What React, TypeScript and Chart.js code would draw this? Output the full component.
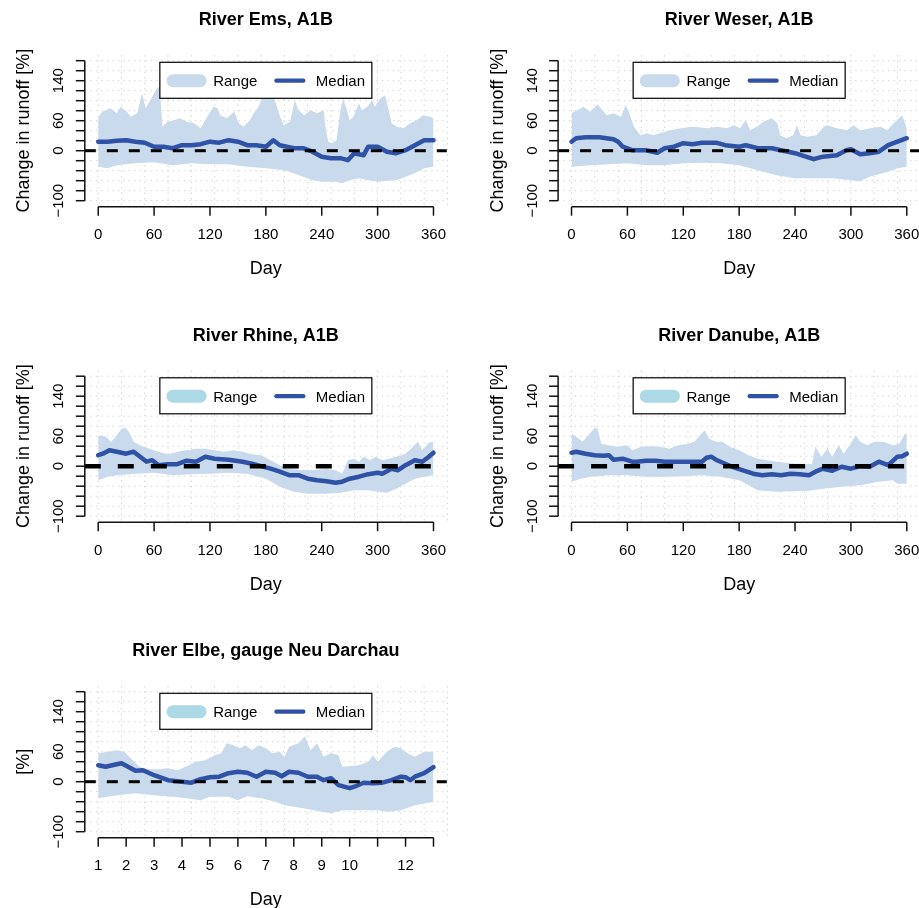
import React, { useEffect, useRef } from 'react';
import { Chart, registerables } from 'chart.js';
Chart.register(...registerables);

const FONT = "'Liberation Sans', Arial, Helvetica, sans-serif";
const X_MIN = -14.4;
const X_MAX = 374.4;
const Y_MIN = -111.2;
const Y_MAX = 191.2;

const Y_TICKS = [-100, -80, -60, -40, -20, 0, 20, 40, 60, 80, 100, 120, 140, 160, 180];
const Y_LABEL_VALUES = [-100, 0, 60, 140];
const Y_LABELS = ['\u2212100', '0', '60', '140'];
const GRID_X = [0, 25, 50, 75, 100, 125, 150, 175, 200, 225, 250, 275, 300, 325, 350, 375];
const DAY_TICKS = [0, 60, 120, 180, 240, 300, 360];
const DAY_LABELS = ['0', '60', '120', '180', '240', '300', '360'];
const MONTH_TICKS = [0, 30, 60, 90, 120, 150, 180, 210, 240, 270, 300, 330, 360];
const MONTH_LABELS = ['1', '2', '3', '4', '5', '6', '7', '8', '9', '10', '', '12', ''];

// ---- River Ems ----
const emsUpDays = [0,4,8,13,20,24,31,35,42,47,51,54,58,63,66,69,74,81,88,95,103,110,117,124,128,131,138,146,151,156,163,167,172,178,182,188,194,199,206,211,215,221,228,235,242,244,247,251,256,260,263,267,270,274,280,283,289,294,297,303,308,312,315,321,328,335,342,349,356,360];
const emsUp = [66,78,81,85,75,88,78,68,75,115,85,95,108,125,128,48,57,61,65,58,55,45,68,88,85,71,65,78,55,48,61,75,88,115,135,112,75,51,58,101,81,71,81,75,81,48,18,15,21,81,105,81,61,68,95,81,88,101,88,105,111,81,55,48,45,55,61,71,68,65];
const emsLoDays = [0,10,20,40,60,80,100,120,140,160,180,200,210,220,230,240,255,262,270,280,290,300,310,320,330,340,350,360];
const emsLo = [-32,-35,-29,-25,-23,-29,-25,-27,-27,-32,-35,-39,-45,-52,-59,-62,-62,-65,-59,-55,-59,-62,-60,-59,-52,-45,-35,-32];
const emsMedDays = [0,10,20,30,40,50,60,70,80,90,100,110,120,130,140,150,160,170,180,188,195,200,210,220,230,240,250,260,268,275,285,290,300,310,320,330,340,350,360];
const emsMed = [18,18,20,21,18,16,8,8,5,11,11,13,18,16,21,18,11,11,8,21,11,9,5,5,-2,-12,-15,-15,-19,-5,-9,8,8,-2,-5,1,11,21,21];

// ---- River Weser ----
const weserUpDays = [0,6,13,20,28,33,38,45,53,58,61,67,74,81,88,95,106,117,131,146,156,167,174,181,187,192,199,206,215,221,224,231,238,242,246,253,263,271,274,285,296,303,310,321,332,339,346,355,360];
const weserUp = [75,81,88,78,93,81,71,75,68,91,81,48,31,35,31,35,41,45,48,45,48,45,51,45,61,41,48,58,65,55,31,25,31,51,31,28,31,48,51,45,41,51,41,45,48,41,55,71,45];
const weserLoDays = [0,20,40,60,80,100,120,140,160,180,200,220,240,260,280,300,310,320,340,350,360];
const weserLo = [-32,-29,-27,-25,-29,-29,-25,-24,-25,-29,-39,-49,-55,-55,-55,-59,-61,-52,-42,-35,-32];
const weserMedDays = [0,5,15,30,45,50,55,65,80,92,100,110,120,130,140,155,165,180,187,200,215,225,240,260,270,285,295,300,310,320,330,340,350,360];
const weserMed = [18,25,27,27,23,18,8,1,1,-4,5,8,15,13,16,16,11,8,11,5,5,1,-5,-17,-12,-9,1,3,-7,-5,-2,11,18,25];

// ---- River Rhine ----
const rhineUpDays = [0,3,8,14,20,25,29,33,38,45,55,65,75,85,95,105,115,125,135,145,155,165,175,185,195,205,215,225,235,245,255,262,268,275,280,285,292,298,305,312,320,330,338,343,348,355,360];
const rhineUp = [60,62,59,49,62,75,77,69,49,42,35,29,24,29,32,35,35,32,29,32,29,24,22,12,2,-5,-7,-8,-7,-5,-8,-15,12,15,9,19,12,19,12,15,19,25,39,49,32,47,49];
const rhineLoDays = [0,10,20,40,60,80,100,120,140,160,180,195,210,225,245,260,275,290,300,310,320,330,340,350,360];
const rhineLo = [-28,-21,-18,-15,-13,-18,-16,-15,-13,-15,-25,-41,-51,-55,-55,-53,-48,-48,-51,-53,-45,-35,-25,-21,-18];
const rhineMedDays = [0,5,12,20,30,38,45,52,58,65,75,85,95,105,115,125,140,155,165,175,185,195,205,215,225,235,245,255,262,270,280,290,300,305,315,322,330,340,348,355,360];
const rhineMed = [22,25,32,29,25,29,19,9,12,2,4,4,11,9,19,15,13,9,5,0,-5,-11,-18,-18,-25,-28,-30,-33,-31,-25,-21,-16,-13,-15,-5,-8,2,12,9,19,27];

// ---- River Danube ----
const danubeUpDays = [0,5,12,18,25,28,32,40,50,60,65,75,85,95,105,115,125,132,138,143,148,155,162,170,180,190,200,210,220,230,240,250,258,262,268,275,280,287,292,300,305,310,318,325,335,345,352,358,360];
const danubeUp = [65,59,49,62,77,75,45,42,39,42,32,39,40,39,35,42,45,49,62,72,55,49,49,39,32,22,15,12,9,7,5,5,4,39,19,35,19,42,25,45,62,49,42,49,49,42,45,65,65];
const danubeLoDays = [0,10,20,40,60,80,100,120,140,160,180,190,200,220,240,255,270,290,310,330,345,350,360];
const danubeLo = [-31,-25,-21,-18,-18,-21,-21,-20,-18,-21,-28,-38,-48,-51,-50,-49,-45,-41,-38,-31,-28,-35,-35];
const danubeMedDays = [0,5,15,25,35,40,45,55,60,65,70,80,90,100,110,120,130,140,145,150,155,165,175,185,195,205,215,225,235,245,255,262,270,280,290,300,310,320,330,340,350,355,360];
const danubeMed = [27,29,25,22,21,22,13,15,12,9,9,11,11,9,9,9,9,9,17,19,13,5,-3,-9,-15,-18,-16,-18,-15,-16,-18,-11,-5,-9,-1,-5,0,-1,9,2,19,20,25];

// ---- River Elbe ----
const elbeUpDays = [0,10,20,28,35,45,55,65,75,85,95,105,115,125,132,138,145,152,158,165,172,180,187,195,200,205,215,222,228,235,242,250,258,262,270,280,290,295,300,310,318,325,332,340,350,360];
const elbeUp = [57,60,63,60,47,29,25,25,27,23,31,40,43,53,57,77,73,67,73,63,73,67,57,60,50,70,77,91,63,77,50,57,53,30,31,33,40,53,40,60,70,67,57,50,60,60];
const elbeLoDays = [0,20,40,60,80,95,110,120,140,150,160,175,190,200,220,240,250,262,280,300,310,325,340,360];
const elbeLo = [-33,-27,-23,-27,-30,-33,-37,-30,-30,-37,-29,-33,-40,-47,-53,-60,-63,-57,-57,-57,-60,-57,-47,-40];
const elbeMedDays = [0,8,15,25,32,40,48,60,75,90,100,110,120,130,140,150,160,170,180,190,197,205,215,225,235,242,250,258,270,275,285,295,305,315,325,330,335,340,350,360];
const elbeMed = [33,30,33,37,30,22,23,13,3,0,-2,5,9,10,17,20,18,10,20,18,11,20,18,10,10,3,7,-7,-13,-10,-2,-3,-2,3,10,9,3,10,17,29];

const BAND = 'rgb(200,218,235)';
const LIGHTBLUE = '#add8e6';
const MEDIAN = '#2f52a6';

type Panel = {
  title: string; ylabel: string;
  upDays: number[]; up: number[]; loDays: number[]; lo: number[]; medDays: number[]; med: number[];
  xTicks: number[]; xLabels: string[]; swatch: string; dashW: number; dash: number[];
  col: number; row: number;
};

const PANELS: Panel[] = [
  { title: 'River Ems, A1B', ylabel: 'Change in runoff [%]', upDays: emsUpDays, up: emsUp, loDays: emsLoDays, lo: emsLo, medDays: emsMedDays, med: emsMed, xTicks: DAY_TICKS, xLabels: DAY_LABELS, swatch: BAND, dashW: 3, dash: [11, 11], col: 0, row: 0 },
  { title: 'River Weser, A1B', ylabel: 'Change in runoff [%]', upDays: weserUpDays, up: weserUp, loDays: weserLoDays, lo: weserLo, medDays: weserMedDays, med: weserMed, xTicks: DAY_TICKS, xLabels: DAY_LABELS, swatch: BAND, dashW: 3, dash: [11, 11], col: 1, row: 0 },
  { title: 'River Rhine, A1B', ylabel: 'Change in runoff [%]', upDays: rhineUpDays, up: rhineUp, loDays: rhineLoDays, lo: rhineLo, medDays: rhineMedDays, med: rhineMed, xTicks: DAY_TICKS, xLabels: DAY_LABELS, swatch: LIGHTBLUE, dashW: 4.5, dash: [16, 17], col: 0, row: 1 },
  { title: 'River Danube, A1B', ylabel: 'Change in runoff [%]', upDays: danubeUpDays, up: danubeUp, loDays: danubeLoDays, lo: danubeLo, medDays: danubeMedDays, med: danubeMed, xTicks: DAY_TICKS, xLabels: DAY_LABELS, swatch: LIGHTBLUE, dashW: 4.5, dash: [16, 17], col: 1, row: 1 },
  { title: 'River Elbe, gauge Neu Darchau', ylabel: '[%]', upDays: elbeUpDays, up: elbeUp, loDays: elbeLoDays, lo: elbeLo, medDays: elbeMedDays, med: elbeMed, xTicks: MONTH_TICKS, xLabels: MONTH_LABELS, swatch: LIGHTBLUE, dashW: 3, dash: [11, 11], col: 0, row: 2 },
];

const W = 473;
const H = 316;
const COL_W = 473.3;
const ROW_H = 315.5;

function makeDeco(p: Panel) {
  return {
    id: 'deco',
    beforeDatasetsDraw(chart: any) {
      const { ctx, chartArea: a, scales } = chart;
      const x = scales.x, y = scales.y;
      ctx.save();
      ctx.strokeStyle = '#d3d3d3';
      ctx.lineWidth = 1;
      ctx.setLineDash([1.4, 4.1]);
      for (const v of Y_TICKS) {
        const py = y.getPixelForValue(v);
        ctx.beginPath(); ctx.moveTo(a.left, py); ctx.lineTo(a.right, py); ctx.stroke();
      }
      for (const v of GRID_X) {
        const px = x.getPixelForValue(v);
        ctx.beginPath(); ctx.moveTo(px, a.top); ctx.lineTo(px, a.bottom); ctx.stroke();
      }
      ctx.restore();
    },
    afterDatasetsDraw(chart: any) {
      const { ctx, chartArea: a, scales } = chart;
      const x = scales.x, y = scales.y;
      const cx = (a.left + a.right) / 2;
      const cy = (a.top + a.bottom) / 2;
      ctx.save();
      ctx.setLineDash([]);
      ctx.strokeStyle = '#111';
      ctx.fillStyle = '#000';
      ctx.lineWidth = 1.5;
      // y axis
      ctx.beginPath();
      ctx.moveTo(a.left, y.getPixelForValue(-100));
      ctx.lineTo(a.left, y.getPixelForValue(180));
      ctx.stroke();
      for (const v of Y_TICKS) {
        const py = y.getPixelForValue(v);
        ctx.beginPath(); ctx.moveTo(a.left, py); ctx.lineTo(a.left - 9, py); ctx.stroke();
      }
      // x axis
      const xb = a.bottom + 0.4;
      ctx.beginPath();
      ctx.moveTo(x.getPixelForValue(p.xTicks[0]), xb);
      ctx.lineTo(x.getPixelForValue(p.xTicks[p.xTicks.length - 1]), xb);
      ctx.stroke();
      for (const v of p.xTicks) {
        const px = x.getPixelForValue(v);
        ctx.beginPath(); ctx.moveTo(px, xb); ctx.lineTo(px, xb + 9); ctx.stroke();
      }
      // tick labels
      ctx.font = `15px ${FONT}`;
      ctx.textAlign = 'center';
      ctx.textBaseline = 'alphabetic';
      p.xTicks.forEach((v, i) => {
        if (p.xLabels[i]) ctx.fillText(p.xLabels[i], x.getPixelForValue(v), a.bottom + 32.7);
      });
      Y_LABEL_VALUES.forEach((v, i) => {
        ctx.save();
        ctx.translate(a.left - 21.5, y.getPixelForValue(v));
        ctx.rotate(-Math.PI / 2);
        ctx.fillText(Y_LABELS[i], 0, 0);
        ctx.restore();
      });
      // axis titles
      ctx.font = `18px ${FONT}`;
      ctx.fillText('Day', cx, a.bottom + 68);
      ctx.save();
      ctx.translate(a.left - 55.5, cy);
      ctx.rotate(-Math.PI / 2);
      ctx.fillText(p.ylabel, 0, 0);
      ctx.restore();
      // main title
      ctx.font = `bold 18px ${FONT}`;
      ctx.fillText(p.title, cx, a.top - 30);
      // legend
      const bw = 212, bh = 36;
      const bl = cx - bw / 2, bt = a.top + 7.2;
      ctx.fillStyle = '#fff';
      ctx.fillRect(bl, bt, bw, bh);
      ctx.strokeStyle = '#000';
      ctx.lineWidth = 1.2;
      ctx.strokeRect(bl, bt, bw, bh);
      const ly = bt + 18.4;
      ctx.lineCap = 'round';
      ctx.strokeStyle = p.swatch;
      ctx.lineWidth = 13;
      ctx.beginPath(); ctx.moveTo(bl + 13.2, ly); ctx.lineTo(bl + 40.2, ly); ctx.stroke();
      ctx.strokeStyle = MEDIAN;
      ctx.lineWidth = 4.2;
      ctx.beginPath(); ctx.moveTo(bl + 116.5, ly); ctx.lineTo(bl + 143.5, ly); ctx.stroke();
      ctx.fillStyle = '#000';
      ctx.font = `15px ${FONT}`;
      ctx.textAlign = 'left';
      ctx.fillText('Range', bl + 53.3, ly + 5.4);
      ctx.fillText('Median', bl + 156, ly + 5.4);
      ctx.restore();
    },
  };
}

const pts = (xs: number[], ys: number[]) => xs.map((v, i) => ({ x: v, y: ys[i] }));

function PanelChart({ p }: { p: Panel }) {
  const ref = useRef<HTMLCanvasElement | null>(null);
  const ox = p.col * COL_W;
  const oy = p.row * ROW_H;
  const cl = Math.floor(ox);
  const ct = Math.floor(oy);
  useEffect(() => {
    if (!ref.current) return;
    const absL = ox + 84.8, absR = ox + 446.9, absT = oy + 55.1, absB = oy + 206.3;
    const chart = new Chart(ref.current, {
      type: 'line',
      data: {
        datasets: [
          { label: 'Range', data: pts(p.upDays, p.up), fill: '+1', backgroundColor: BAND, borderColor: 'rgba(0,0,0,0)', borderWidth: 0.01, pointRadius: 0, order: 3 },
          { label: 'lower', data: pts(p.loDays, p.lo), fill: false, borderColor: 'rgba(0,0,0,0)', borderWidth: 0.01, pointRadius: 0, order: 4 },
          { label: 'Median', data: pts(p.medDays, p.med), fill: false, borderColor: MEDIAN, borderWidth: 4.5, pointRadius: 0, borderJoinStyle: 'round', borderCapStyle: 'round', order: 2 },
          { label: 'zero', data: [{ x: X_MIN, y: 0 }, { x: X_MAX, y: 0 }], fill: false, borderColor: '#000', borderWidth: p.dashW, borderDash: p.dash, borderCapStyle: 'butt', pointRadius: 0, order: 1 },
        ],
      } as any,
      options: {
        animation: false,
        responsive: false,
        devicePixelRatio: 1,
        events: [],
        layout: { padding: { left: absL - cl, right: W - (absR - cl), top: absT - ct, bottom: H - (absB - ct) } },
        scales: {
          x: { type: 'linear', min: X_MIN, max: X_MAX, display: false },
          y: { type: 'linear', min: Y_MIN, max: Y_MAX, display: false },
        },
        plugins: { legend: { display: false }, title: { display: false }, tooltip: { enabled: false } },
      } as any,
      plugins: [makeDeco(p) as any],
    });
    return () => chart.destroy();
  }, []);
  return (
    <canvas
      ref={ref}
      width={W}
      height={H}
      style={{ position: 'absolute', left: cl, top: ct, width: W, height: H }}
    />
  );
}

export default function App() {
  return (
    <div style={{ position: 'absolute', left: 0, top: 0, width: 919, height: 908, overflow: 'hidden', background: '#fff' }}>
      {PANELS.map((p, i) => (
        <PanelChart key={i} p={p} />
      ))}
    </div>
  );
}
